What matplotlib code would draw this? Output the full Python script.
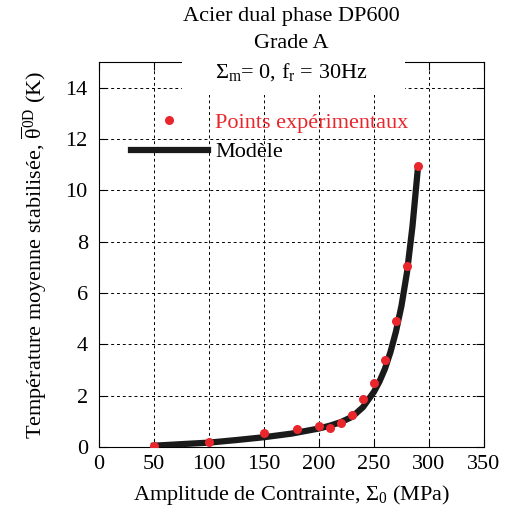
import matplotlib.pyplot as plt
from matplotlib.patches import Rectangle

plt.rcParams['font.family'] = ['Liberation Serif', 'DejaVu Serif']
plt.rcParams['mathtext.fontset'] = 'stix'
plt.rcParams['mathtext.default'] = 'regular'

# experimental points
sigma_exp = [50, 100, 150, 180, 200, 210, 220, 230, 240, 250, 260, 270, 280, 290]
theta_exp = [0.05, 0.2, 0.55, 0.7, 0.8, 0.75, 0.95, 1.25, 1.85, 2.5, 3.4, 4.9, 7.05, 10.95]

# model curve
sigma_mod = [50, 75, 100, 125, 150, 175, 200, 210, 220, 230, 240, 250, 255, 260, 265, 270, 275, 280, 285, 290]
theta_mod = [0.05, 0.11, 0.17, 0.27, 0.38, 0.52, 0.72, 0.83, 0.97, 1.17, 1.55, 2.15, 2.55, 3.05, 3.7, 4.5, 5.5, 6.8, 8.6, 10.9]

xticks = [0, 50, 100, 150, 200, 250, 300, 350]
yticks = [0, 2, 4, 6, 8, 10, 12, 14]

fig = plt.figure(figsize=(5.1, 5.12), dpi=100)
ax = fig.add_axes([0.194, 0.127, 0.755, 0.752])

ax.plot(sigma_mod, theta_mod, color='#1a1a1a', lw=4.5, label='Modèle', zorder=3)
ax.plot(sigma_exp, theta_exp, 'o', color='#e8262b', ms=6.5, mec='none',
        label='Points expérimentaux', zorder=4)

ax.set_xlim(0, 350)
ax.set_ylim(0, 15)
ax.set_xticks(xticks)
ax.set_yticks(yticks)
ax.tick_params(direction='in', labelsize=16, length=6, top=True, right=True)
ax.tick_params(axis='y', pad=8)
ax.tick_params(axis='x', pad=6)
ax.grid(True, color='black', ls=(0, (3, 3)), lw=0.7)

ax.set_xlabel('Amplitude de Contrainte, $\\Sigma_0$ (MPa)', fontsize=16, labelpad=6)
ax.set_ylabel('Température moyenne stabilisée, $\\overline{\\theta}^{0D}$ (K)', fontsize=16, labelpad=12)

handles, labels = ax.get_legend_handles_labels()
leg = ax.legend(handles[::-1], labels[::-1], loc='upper left', bbox_to_anchor=(0.06, 0.892),
                frameon=False, fontsize=16, handlelength=3.45, handletextpad=0.35,
                labelspacing=0.4, borderaxespad=0)
leg.get_texts()[0].set_color('#e8262b')

# white box behind the condition line
ax.add_patch(Rectangle((0.216, 0.914), 0.58, 0.1, transform=ax.transAxes,
                       facecolor='white', edgecolor='none', zorder=5, clip_on=False))
ax.text(0.5, 0.975, '$\\Sigma_m$= 0, f$_r$ = 30Hz', transform=ax.transAxes,
        ha='center', va='center', fontsize=16, zorder=6)

fig.text(0.571, 0.968, 'Acier dual phase DP600', ha='center', va='center', fontsize=16)
fig.text(0.571, 0.916, 'Grade A', ha='center', va='center', fontsize=16)

fig.savefig('out.png', dpi=100)
